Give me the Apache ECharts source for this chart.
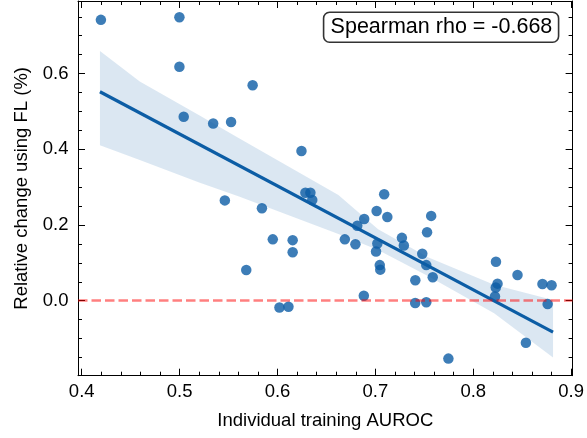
<!DOCTYPE html>
<html>
<head>
<meta charset="utf-8">
<script src="https://cdn.jsdelivr.net/npm/echarts@6/dist/echarts.min.js"></script>
<style>
  html, body { margin: 0; padding: 0; background: #fff; }
  #chart { width: 587px; height: 438px; }
</style>
</head>
<body>
<div id="chart"></div>
<script>
// scatter points
const auroc = [
  0.4196, 0.4998, 0.4998, 0.5042, 0.5343, 0.5526, 0.5746, 0.5462, 0.5841, 0.6245,
  0.6285, 0.6336, 0.6355, 0.5952, 0.6155, 0.6155, 0.5681, 0.6020, 0.6112, 0.6688,
  0.6796, 0.6815, 0.6886, 0.6882, 0.7013, 0.7020, 0.7007, 0.7045, 0.7050, 0.7090,
  0.7122, 0.7271, 0.7291, 0.7408, 0.7407, 0.7479, 0.7520, 0.7520, 0.7528, 0.7570,
  0.7586, 0.7746, 0.8222, 0.8230, 0.8232, 0.8248, 0.8452, 0.8538, 0.8707, 0.8800,
  0.8760
];
const relChange = [
  0.742, 0.749, 0.618, 0.486, 0.468, 0.472, 0.569, 0.265, 0.244, 0.3955,
  0.285, 0.285, 0.266, 0.162, 0.160, 0.128, 0.081, -0.018, -0.016, 0.162,
  0.149, 0.198, 0.216, 0.013, 0.237, 0.151, 0.130, 0.094, 0.082, 0.281,
  0.221, 0.166, 0.146, 0.054, -0.006, 0.124, 0.094, -0.004, 0.181, 0.224,
  0.062, -0.153, 0.011, 0.035, 0.103, 0.045, 0.068, -0.111, 0.044, 0.041,
  -0.009
];

// regression line and its confidence band
const fitX = [0.4186, 0.8815];
const fitY = [0.552, -0.083];
const bandX = [0.4186, 0.4593, 0.5200, 0.5607, 0.6622, 0.7028, 0.7537, 0.8213, 0.8815];
const bandLower = [0.411, 0.372, 0.312, 0.275, 0.176, 0.134, 0.065, -0.033, -0.150];
const bandUpper = [0.660, 0.579, 0.490, 0.429, 0.279, 0.189, 0.115, 0.042, 0.002];

// ticks
const xMajor = [0.4, 0.5, 0.6, 0.7, 0.8, 0.9];
const xMinor = [0.42, 0.44, 0.46, 0.48, 0.52, 0.54, 0.56, 0.58, 0.62, 0.64, 0.66, 0.68,
                0.72, 0.74, 0.76, 0.78, 0.82, 0.84, 0.86, 0.88];
const yMajor = [0, 0.2, 0.4, 0.6];
const yMinor = [-0.15, -0.1, -0.05, 0.05, 0.1, 0.15, 0.25, 0.3, 0.35, 0.45, 0.5, 0.55,
                0.65, 0.7, 0.75];

const X_MIN = 0.3962, X_MAX = 0.9015;
const Y_MIN = -0.1982, Y_MAX = 0.7918;
const BLUE = '#0C5DA5';
const FONT = 'Liberation Sans';

const chart = echarts.init(document.getElementById('chart'), null, { renderer: 'canvas' });

function axis(dim, pos, ticks, len, opts) {
  const a = {
    type: 'value',
    position: pos,
    min: dim === 'x' ? X_MIN : Y_MIN,
    max: dim === 'x' ? X_MAX : Y_MAX,
    splitLine: { show: false },
    axisLine: { show: !!opts.line, onZero: false, lineStyle: { color: '#000', width: 1 } },
    axisTick: { show: true, inside: true, length: len, customValues: ticks,
                lineStyle: { color: '#000', width: 1 } },
    axisLabel: { show: false }
  };
  if (opts.label) {
    a.axisLabel = {
      show: true,
      customValues: ticks,
      formatter: v => v.toFixed(1),
      fontSize: 18.5,
      fontFamily: FONT,
      color: '#000',
      margin: dim === 'x' ? 7 : 9.5
    };
    a.name = opts.name;
    a.nameLocation = 'middle';
    a.nameGap = opts.nameGap;
    a.nameTextStyle = { fontSize: 18.5, fontFamily: FONT, color: '#000' };
  }
  return a;
}

const option = {
  animation: false,
  backgroundColor: '#fff',
  textStyle: { fontFamily: FONT },
  grid: { left: 78, right: 11.3, top: 1, bottom: 62.3 },
  title: {
    text: 'Spearman rho = -0.668',
    right: 27.7,
    top: 12.3,
    padding: [4, 7],
    borderColor: '#333',
    borderWidth: 1.6,
    borderRadius: 6,
    backgroundColor: '#fff',
    textStyle: { fontSize: 21.5, fontWeight: 'normal', color: '#000', fontFamily: FONT }
  },
  xAxis: [
    axis('x', 'bottom', xMajor, 7, { line: true, label: true, name: 'Individual training AUROC', nameGap: 36 }),
    axis('x', 'bottom', xMinor, 4, {}),
    axis('x', 'top', xMajor, 7, { line: true }),
    axis('x', 'top', xMinor, 4, {})
  ],
  yAxis: [
    axis('y', 'left', yMajor, 7, { line: true, label: true, name: 'Relative change using FL (%)', nameGap: 46 }),
    axis('y', 'left', yMinor, 4, {}),
    axis('y', 'right', yMajor, 7, { line: true }),
    axis('y', 'right', yMinor, 4, {})
  ],
  series: [
    {
      type: 'scatter',
      data: auroc.map((x, i) => [x, relChange[i]]),
      symbolSize: 10.5,
      itemStyle: { color: BLUE, opacity: 0.8 },
      z: 2
    },
    {
      type: 'custom',
      silent: true,
      data: [[bandX[0], bandUpper[0]]],
      renderItem: function (params, api) {
        const pts = [];
        for (let i = 0; i < bandX.length; i++) pts.push(api.coord([bandX[i], bandUpper[i]]));
        for (let i = bandX.length - 1; i >= 0; i--) pts.push(api.coord([bandX[i], bandLower[i]]));
        return { type: 'polygon', shape: { points: pts }, style: { fill: BLUE, opacity: 0.15 } };
      },
      z: 3
    },
    {
      type: 'line',
      data: fitX.map((x, i) => [x, fitY[i]]),
      symbol: 'none',
      lineStyle: { color: BLUE, width: 3.2 },
      z: 4
    },
    {
      type: 'line',
      data: [],
      markLine: {
        silent: true,
        symbol: 'none',
        label: { show: false },
        lineStyle: { color: '#ff0000', opacity: 0.5, width: 2.6, type: [9.5, 4] },
        data: [{ yAxis: 0 }]
      },
      z: 5
    }
  ]
};

chart.setOption(option);
</script>
</body>
</html>
